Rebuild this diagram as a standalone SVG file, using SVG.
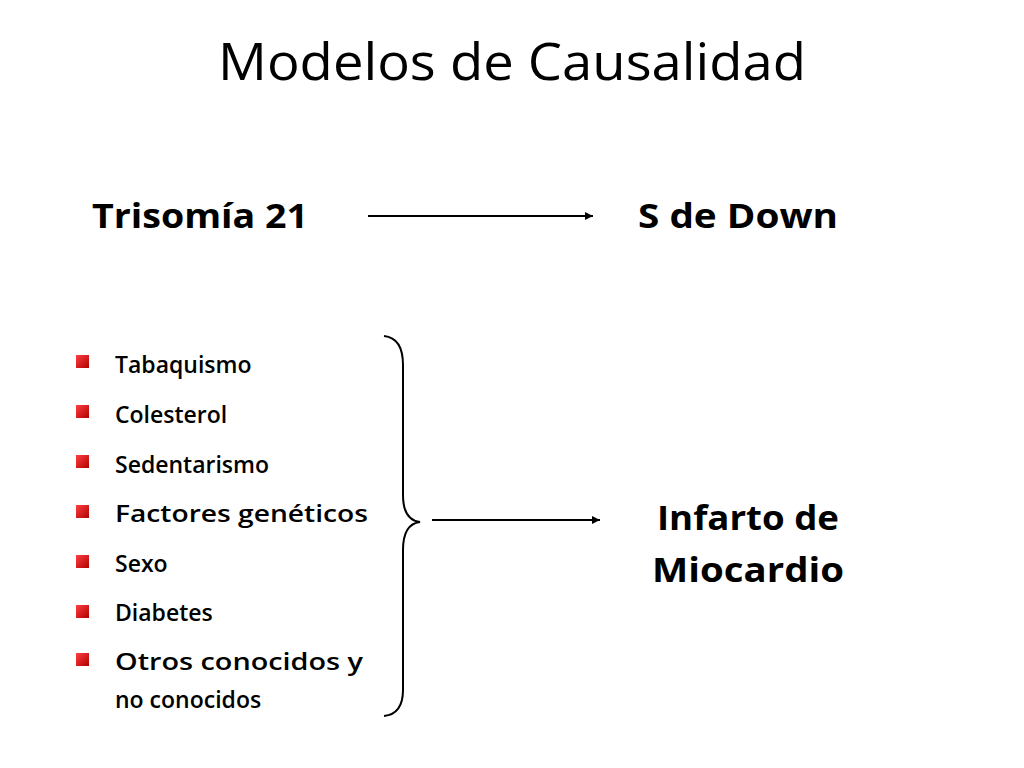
<svg xmlns="http://www.w3.org/2000/svg" width="1024" height="768" viewBox="0 0 1024 768">
<style>
text{font-family:"Open Sans","Liberation Sans",sans-serif;fill:#000}
.h{font-size:34px;font-weight:bold}
.li{font-size:23px;font-weight:600}
.b{fill:url(#g)}
.c{stroke:#000;stroke-width:2;fill:none}
</style>
<defs>
<linearGradient id="g" x1="0" y1="0" x2="1" y2="1"><stop offset="0" stop-color="#ff4040"/><stop offset="1" stop-color="#b00000"/></linearGradient>
<marker id="a" viewBox="0 0 10 10" refX="10" refY="5" markerWidth="8" markerHeight="8" orient="auto" markerUnits="userSpaceOnUse"><path d="M0,0L10,5L0,10z"/></marker>
</defs>
<rect width="1024" height="768" fill="#fff"/>
<text x="512" y="80" text-anchor="middle" font-size="52" textLength="588" lengthAdjust="spacingAndGlyphs">Modelos de Causalidad</text>
<g id="trisomia"><text class="h" x="92" y="228" textLength="216" lengthAdjust="spacingAndGlyphs">Trisomía 21</text></g>
<g id="down"><text class="h" x="638" y="228" textLength="200" lengthAdjust="spacingAndGlyphs">S de Down</text></g>
<g id="infarto"><text class="h" x="748" y="530" text-anchor="middle" textLength="182" lengthAdjust="spacingAndGlyphs">Infarto de</text><text class="h" x="748" y="582" text-anchor="middle" textLength="192" lengthAdjust="spacingAndGlyphs">Miocardio</text></g>
<g id="factores">
<rect class="b" x="76" y="355" width="13" height="13"/><text class="li" x="115" y="373">Tabaquismo</text>
<rect class="b" x="76" y="405" width="13" height="13"/><text class="li" x="115" y="423">Colesterol</text>
<rect class="b" x="76" y="455" width="13" height="13"/><text class="li" x="115" y="473">Sedentarismo</text>
<rect class="b" x="76" y="505" width="13" height="13"/><text class="li" x="115" y="522" textLength="253" lengthAdjust="spacingAndGlyphs">Factores genéticos</text>
<rect class="b" x="76" y="555" width="13" height="13"/><text class="li" x="115" y="572">Sexo</text>
<rect class="b" x="76" y="605" width="13" height="13"/><text class="li" x="115" y="621">Diabetes</text>
<rect class="b" x="76" y="653" width="13" height="13"/><text class="li" x="115" y="670" textLength="248" lengthAdjust="spacingAndGlyphs">Otros conocidos y</text><text class="li" x="115" y="708">no conocidos</text>
</g>
<g id="connectors">
<path class="c" d="M384,336 Q403,338 403,365 L403,495 Q403,520 420,522 Q403,524 403,550 L403,690 Q403,714 384,716"/>
<line class="c" x1="368" y1="216" x2="593" y2="216" marker-end="url(#a)"/>
<line class="c" x1="432" y1="520" x2="600" y2="520" marker-end="url(#a)"/>
</g>
</svg>
